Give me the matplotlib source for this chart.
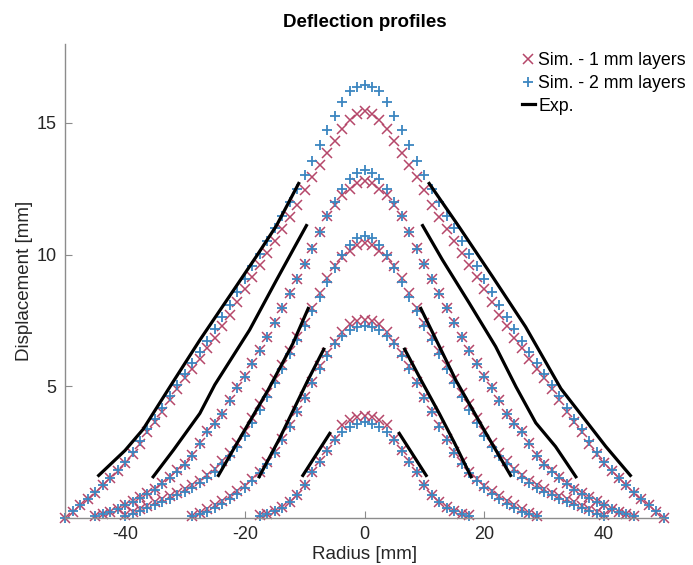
import numpy as np
import matplotlib
matplotlib.use('Agg')
import matplotlib.pyplot as plt

# ============================================================
# DATA
# ============================================================

# sampling grid of the simulations (radius >= 0, profiles are axisymmetric)
radius_grid = np.arange(0, 50.01, 1.25)

# simulated displacement [mm], 1 mm layers, from r = 0 outwards
sim1_p1 = [3.85, 3.82, 3.72, 3.5, 3.0, 2.55, 2.15, 1.75, 1.25, 0.85, 0.6, 0.4, 0.25, 0.15, 0.08]
sim1_p2 = [7.52, 7.47, 7.35, 7.05, 6.68, 6.25, 5.75, 5.15, 4.6, 4.05, 3.5, 3.0, 2.5, 2.1,
           1.75, 1.45, 1.2, 1.0, 0.82, 0.62, 0.46, 0.32, 0.18, 0.06]
sim1_p3 = [10.45, 10.38, 10.15, 9.9, 9.55, 9.1, 8.55, 7.95, 7.4, 6.85, 6.35, 5.8, 5.25, 4.75,
           4.3, 3.8, 3.3, 2.85, 2.45, 2.15, 1.85, 1.6, 1.4, 1.22, 1.1, 0.95, 0.82, 0.7, 0.58,
           0.45, 0.33, 0.21, 0.1]
sim1_p4 = [12.8, 12.7, 12.5, 12.25, 11.9, 11.45, 10.85, 10.25, 9.65, 9.08, 8.52, 7.97, 7.42,
           6.88, 6.36, 5.86, 5.38, 4.95, 4.45, 3.95, 3.6, 3.3, 2.85, 2.38, 2.05, 1.8, 1.55,
           1.3, 1.1, 0.93, 0.78, 0.62, 0.48, 0.34, 0.22, 0.13, 0.06]
sim1_p5 = [15.45, 15.35, 15.1, 14.78, 14.3, 13.85, 13.42, 12.95, 12.45, 11.9, 11.43, 10.98,
           10.5, 10.05, 9.6, 9.14, 8.67, 8.18, 7.7, 7.28, 6.82, 6.43, 6.03, 5.65, 5.3, 4.9,
           4.45, 4.02, 3.65, 3.25, 2.8, 2.4, 2.06, 1.77, 1.49, 1.22, 0.95, 0.7, 0.48, 0.22, 0.0]

# simulated displacement [mm], 2 mm layers
sim2_p1 = [3.64, 3.56, 3.45, 3.27, 2.95, 2.52, 2.12, 1.72, 1.25, 0.85, 0.58, 0.38, 0.24, 0.14, 0.06]
sim2_p2 = [7.3, 7.25, 7.12, 6.9, 6.6, 6.15, 5.65, 5.1, 4.55, 4.0, 3.45, 2.95, 2.45, 2.05,
           1.7, 1.4, 1.13, 0.9, 0.7, 0.5, 0.35, 0.22, 0.12, 0.04]
sim2_p3 = [10.72, 10.62, 10.38, 10.0, 9.5, 8.95, 8.4, 7.85, 7.3, 6.75, 6.2, 5.65, 5.1, 4.6,
           4.1, 3.6, 3.1, 2.7, 2.35, 2.05, 1.75, 1.5, 1.3, 1.12, 0.98, 0.85, 0.72, 0.6, 0.48,
           0.36, 0.25, 0.15, 0.06]
sim2_p4 = [13.2, 13.1, 12.88, 12.5, 12.0, 11.45, 10.85, 10.22, 9.62, 9.05, 8.5, 7.95, 7.4,
           6.86, 6.34, 5.84, 5.36, 4.92, 4.42, 3.92, 3.56, 3.25, 2.8, 2.33, 2.0, 1.75, 1.5,
           1.26, 1.06, 0.9, 0.75, 0.6, 0.46, 0.32, 0.2, 0.12, 0.05]
sim2_p5 = [16.45, 16.38, 16.2, 15.8, 15.28, 14.72, 14.15, 13.55, 13.02, 12.48, 11.98, 11.48,
           11.0, 10.5, 10.02, 9.55, 9.05, 8.58, 8.08, 7.62, 7.16, 6.72, 6.3, 5.88, 5.45, 5.05,
           4.62, 4.18, 3.76, 3.35, 2.92, 2.5, 2.13, 1.82, 1.52, 1.24, 0.97, 0.72, 0.48, 0.23, 0.0]

sim_1mm = [sim1_p1, sim1_p2, sim1_p3, sim1_p4, sim1_p5]
sim_2mm = [sim2_p1, sim2_p2, sim2_p3, sim2_p4, sim2_p5]

# experimental profiles (left and right flank of each load step)
exp_x = [
    ([-10.3, -5.8], [5.8, 10.3]),
    ([-17.6, -14.2, -9.5, -6.8], [6.7, 9.5, 12.5, 15.0, 17.8]),
    ([-24.4, -22.0, -16.1, -12.0, -9.4], [9.4, 15.3, 20.3, 24.4]),
    ([-35.3, -31.9, -27.5, -25.0, -19.2, -14.7, -11.4, -9.7],
     [9.7, 13.0, 17.5, 21.9, 25.3, 28.6, 31.9, 35.3]),
    ([-44.4, -40.0, -37.0, -32.0, -27.5, -22.0, -18.0, -14.7, -11.0],
     [10.8, 15.8, 21.4, 26.9, 32.8, 36.9, 40.3, 44.4]),
]
exp_y = [
    ([1.6, 3.2], [3.2, 1.6]),
    ([1.55, 3.0, 5.2, 6.4], [6.4, 5.2, 3.95, 2.85, 1.55]),
    ([1.6, 2.55, 4.85, 6.6, 7.95], [7.95, 5.2, 3.2, 1.6]),
    ([1.55, 2.57, 3.96, 5.05, 7.13, 9.03, 10.4, 11.1],
     [11.1, 9.8, 8.15, 6.5, 4.97, 3.6, 2.7, 1.55]),
    ([1.6, 2.55, 3.35, 5.15, 6.75, 8.6, 9.95, 11.1, 12.7],
     [12.7, 11.05, 9.15, 7.25, 4.9, 3.7, 2.7, 1.6]),
]


def full_profile(values):
    # mirror a half profile to both sides of r = 0
    n = len(values)
    r = radius_grid[:n]
    x = np.concatenate([-r[:0:-1], r])
    y = np.concatenate([values[:0:-1], values])
    return x, y


# ============================================================
# FIGURE
# ============================================================

plt.rcParams['font.family'] = ['Liberation Sans', 'DejaVu Sans']
plt.rcParams['axes.unicode_minus'] = False

fig = plt.figure(figsize=(6.93, 5.65), dpi=100)
ax = fig.add_axes([0.094, 0.084, 0.864, 0.838])

red = '#b5476a'
blue = '#3c86c0'

for i, vals in enumerate(sim_1mm):
    x, y = full_profile(vals)
    ax.plot(x, y, linestyle='none', marker='x', markersize=6.5, markeredgewidth=1.1,
            color=red, clip_on=False, label='Sim. - 1 mm layers' if i == 0 else None)

for i, vals in enumerate(sim_2mm):
    x, y = full_profile(vals)
    ax.plot(x, y, linestyle='none', marker='+', markersize=7.5, markeredgewidth=1.3,
            color=blue, clip_on=False, label='Sim. - 2 mm layers' if i == 0 else None)

for i, ((xl, xr), (yl, yr)) in enumerate(zip(exp_x, exp_y)):
    ax.plot(xl, yl, color='black', linewidth=2.3, label='Exp.' if i == 0 else None)
    ax.plot(xr, yr, color='black', linewidth=2.3)

# ============================================================
# AXES
# ============================================================

ax.set_xlim(-50, 50)
ax.set_ylim(0, 18)
ax.set_xticks([-40, -20, 0, 20, 40])
ax.set_yticks([5, 10, 15])

for side in ['top', 'right']:
    ax.spines[side].set_visible(False)
for side in ['left', 'bottom']:
    ax.spines[side].set_color('#8c8c8c')
    ax.spines[side].set_linewidth(1.0)

ax.tick_params(direction='in', length=5, width=0.8, color='#8c8c8c',
               labelsize=13, labelcolor='#262626', pad=6)

ax.set_title('Deflection profiles', fontsize=13.5, fontweight='bold', pad=12)
ax.set_xlabel('Radius [mm]', fontsize=13.5, color='#262626', labelpad=2)
ax.set_ylabel('Displacement [mm]', fontsize=13.5, color='#262626', labelpad=3)

ax.legend(loc='upper right', bbox_to_anchor=(1.0, 0.92), bbox_transform=fig.transFigure,
          frameon=False, fontsize=12.8, handlelength=0.7, handletextpad=0.2,
          labelspacing=0.32, borderaxespad=0.0)

fig.savefig('out.png', dpi=100)
